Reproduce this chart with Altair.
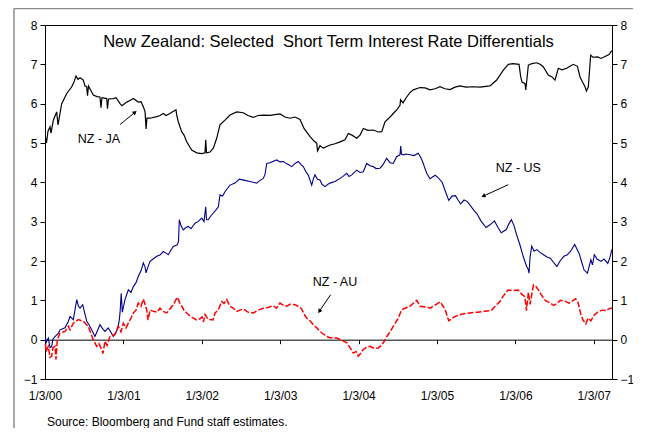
import altair as alt
import pandas as pd

W, H = 567, 354
FONT = "Liberation Sans"

# years since 1/3/00
ja_t = [0.006, 0.019, 0.038, 0.064, 0.077, 0.106, 0.149, 0.166, 0.213, 0.277, 0.341, 0.370, 0.396, 0.421, 0.447,
        0.488, 0.510, 0.532, 0.542, 0.555, 0.616, 0.663, 0.701, 0.714, 0.727, 0.787, 0.797, 0.810, 0.871, 0.906,
        0.957, 0.982, 1.042, 1.084, 1.127, 1.190, 1.225, 1.254, 1.276, 1.289, 1.301, 1.340, 1.425, 1.467, 1.509,
        1.543, 1.594, 1.632, 1.671, 1.683, 1.700, 1.743, 1.773, 1.807, 1.871, 1.935, 2.003, 2.041, 2.050, 2.060,
        2.105, 2.147, 2.190, 2.232, 2.296, 2.360, 2.446, 2.529, 2.589, 2.657, 2.717, 2.784, 2.870, 2.997, 3.061,
        3.125, 3.189, 3.253, 3.304, 3.381, 3.432, 3.466, 3.476, 3.507, 3.549, 3.635, 3.699, 3.763, 3.826, 3.869,
        3.916, 3.976, 4.018, 4.060, 4.120, 4.188, 4.248, 4.295, 4.337, 4.401, 4.442, 4.489, 4.528, 4.535, 4.566,
        4.613, 4.655, 4.698, 4.783, 4.847, 4.911, 4.975, 5.038, 5.102, 5.166, 5.230, 5.294, 5.370, 5.463, 5.548,
        5.676, 5.761, 5.846, 5.910, 5.969, 6.046, 6.068, 6.084, 6.123, 6.132, 6.143, 6.165, 6.212, 6.272, 6.314,
        6.355, 6.419, 6.466, 6.505, 6.547, 6.594, 6.654, 6.696, 6.739, 6.791, 6.824, 6.856, 6.888, 6.906, 6.930,
        6.960, 6.990, 7.049, 7.092, 7.143, 7.194, 7.229]
ja_v = [5.15, 5.00, 5.30, 5.41, 5.25, 5.58, 5.79, 5.46, 6.00, 6.26, 6.43, 6.55, 6.70, 6.62, 6.66,
        6.60, 6.45, 6.43, 6.20, 6.45, 6.22, 6.18, 6.17, 5.90, 6.15, 6.13, 5.87, 6.12, 6.13, 6.15,
        6.00, 5.95, 6.04, 6.08, 6.13, 6.04, 6.05, 5.92, 5.80, 5.36, 5.63, 5.63, 5.67, 5.70, 5.75,
        5.70, 5.75, 5.80, 5.84, 5.68, 5.54, 5.29, 5.20, 5.03, 4.82, 4.75, 4.73, 4.75, 5.08, 4.75,
        4.77, 4.87, 5.12, 5.46, 5.58, 5.71, 5.79, 5.77, 5.70, 5.65, 5.70, 5.71, 5.70, 5.74, 5.66,
        5.63, 5.66, 5.60, 5.37, 5.16, 5.05, 4.99, 4.80, 4.93, 4.87, 4.95, 4.98, 5.03, 5.08, 5.24,
        5.20, 5.12, 5.20, 5.37, 5.32, 5.33, 5.28, 5.29, 5.54, 5.66, 5.75, 5.85, 5.96, 6.10, 6.02,
        6.17, 6.28, 6.35, 6.41, 6.40, 6.35, 6.38, 6.43, 6.38, 6.36, 6.42, 6.45, 6.42, 6.43, 6.42,
        6.45, 6.60, 6.85, 7.00, 7.02, 7.00, 6.68, 6.55, 6.51, 6.35, 6.55, 6.98, 7.02, 7.04, 7.00,
        6.94, 6.73, 6.68, 6.60, 6.90, 6.86, 6.90, 6.95, 7.00, 6.95, 6.68, 6.55, 6.43, 6.32, 6.43,
        7.23, 7.18, 7.19, 7.15, 7.20, 7.25, 7.35]

us_t = [0.006, 0.013, 0.042, 0.064, 0.085, 0.102, 0.128, 0.166, 0.192, 0.255, 0.294, 0.319, 0.361, 0.405, 0.427,
        0.447, 0.481, 0.504, 0.532, 0.561, 0.595, 0.637, 0.663, 0.701, 0.734, 0.765, 0.807, 0.842, 0.871, 0.921,
        0.944, 0.957, 0.972, 0.986, 1.020, 1.063, 1.097, 1.127, 1.161, 1.190, 1.225, 1.254, 1.276, 1.289, 1.301,
        1.340, 1.378, 1.425, 1.467, 1.509, 1.543, 1.572, 1.607, 1.636, 1.687, 1.703, 1.713, 1.734, 1.764, 1.798,
        1.828, 1.862, 1.913, 1.952, 1.999, 2.028, 2.050, 2.060, 2.083, 2.117, 2.147, 2.181, 2.211, 2.232, 2.264,
        2.296, 2.328, 2.360, 2.424, 2.478, 2.551, 2.614, 2.700, 2.742, 2.784, 2.806, 2.828, 2.870, 2.955, 2.997,
        3.040, 3.087, 3.147, 3.189, 3.231, 3.266, 3.295, 3.323, 3.357, 3.381, 3.402, 3.425, 3.443, 3.476, 3.507,
        3.533, 3.571, 3.609, 3.635, 3.699, 3.763, 3.801, 3.848, 3.878, 3.912, 3.976, 4.018, 4.060, 4.103, 4.146,
        4.188, 4.222, 4.273, 4.312, 4.358, 4.401, 4.442, 4.485, 4.528, 4.537, 4.547, 4.570, 4.604, 4.655, 4.706,
        4.761, 4.796, 4.825, 4.847, 4.872, 4.911, 4.977, 5.013, 5.064, 5.102, 5.150, 5.192, 5.236, 5.268, 5.301,
        5.345, 5.388, 5.473, 5.510, 5.560, 5.625, 5.676, 5.732, 5.778, 5.819, 5.884, 5.918, 5.949, 5.982, 6.013,
        6.059, 6.099, 6.143, 6.161, 6.174, 6.187, 6.208, 6.238, 6.272, 6.314, 6.358, 6.403, 6.445, 6.492, 6.530,
        6.569, 6.618, 6.658, 6.704, 6.756, 6.786, 6.811, 6.849, 6.876, 6.919, 6.939, 6.963, 6.983, 7.007, 7.041,
        7.092, 7.130, 7.178, 7.207, 7.232]
us_v = [0.05, -0.08, 0.04, -0.20, -0.17, 0.02, 0.08, 0.15, 0.25, 0.30, 0.45, 0.59, 0.51, 1.02, 0.85,
        0.80, 0.89, 0.70, 0.47, 0.38, 0.25, 0.08, 0.20, 0.38, 0.28, 0.21, 0.30, 0.18, 0.08, 0.25,
        0.45, 0.68, 1.18, 0.70, 1.02, 1.27, 1.20, 1.35, 1.45, 1.61, 1.75, 1.95, 1.85, 1.70, 1.78,
        1.99, 2.05, 2.12, 2.15, 2.24, 2.20, 2.16, 2.28, 2.37, 2.41, 2.50, 3.05, 2.90, 2.79, 2.85,
        2.88, 2.82, 2.96, 3.00, 3.09, 3.00, 3.38, 3.05, 3.05, 3.15, 3.22, 3.30, 3.38, 3.68, 3.65,
        3.76, 3.85, 3.93, 3.98, 4.08, 4.05, 4.02, 3.98, 4.05, 4.10, 4.20, 4.48, 4.50, 4.57, 4.52,
        4.53, 4.47, 4.40, 4.48, 4.53, 4.45, 4.40, 4.28, 4.19, 4.05, 3.93, 4.10, 4.19, 4.08, 4.06,
        3.95, 3.89, 3.95, 3.98, 4.02, 4.10, 4.15, 4.23, 4.15, 4.19, 4.31, 4.25, 4.27, 4.48, 4.42,
        4.40, 4.35, 4.36, 4.45, 4.61, 4.50, 4.48, 4.65, 4.70, 4.92, 4.72, 4.70, 4.72, 4.70, 4.68,
        4.74, 4.62, 4.48, 4.35, 4.22, 4.09, 4.18, 4.12, 4.01, 3.80, 3.54, 3.65, 3.66, 3.55, 3.45,
        3.55, 3.51, 3.28, 3.20, 3.02, 2.85, 2.92, 3.02, 2.85, 2.72, 2.80, 2.95, 3.05, 2.90, 2.68,
        2.40, 2.12, 1.86, 1.80, 1.69, 2.10, 2.38, 2.25, 2.29, 2.22, 2.16, 2.10, 2.07, 1.95, 1.86,
        2.00, 2.12, 2.15, 2.25, 2.42, 2.30, 2.20, 1.95, 1.77, 1.69, 1.85, 2.03, 1.90, 2.16, 2.05,
        1.99, 2.05, 1.94, 2.10, 2.30]

au_t = [0.006, 0.013, 0.042, 0.064, 0.085, 0.102, 0.128, 0.140, 0.157, 0.192, 0.255, 0.298, 0.319, 0.361, 0.424,
        0.488, 0.522, 0.552, 0.586, 0.616, 0.659, 0.688, 0.723, 0.740, 0.765, 0.791, 0.829, 0.893, 0.935, 0.969,
        0.999, 1.033, 1.063, 1.097, 1.127, 1.161, 1.190, 1.225, 1.254, 1.276, 1.297, 1.314, 1.340, 1.382, 1.429,
        1.467, 1.505, 1.553, 1.594, 1.636, 1.687, 1.716, 1.743, 1.773, 1.807, 1.849, 1.892, 1.933, 1.977, 2.003,
        2.021, 2.041, 2.079, 2.105, 2.143, 2.169, 2.207, 2.254, 2.283, 2.318, 2.360, 2.401, 2.446, 2.487, 2.529,
        2.589, 2.657, 2.717, 2.784, 2.844, 2.912, 2.952, 2.997, 3.036, 3.083, 3.125, 3.189, 3.227, 3.274, 3.304,
        3.337, 3.381, 3.422, 3.466, 3.507, 3.546, 3.593, 3.635, 3.720, 3.775, 3.848, 3.890, 3.932, 3.967, 3.996,
        4.024, 4.060, 4.095, 4.146, 4.197, 4.252, 4.286, 4.316, 4.359, 4.401, 4.442, 4.477, 4.506, 4.549, 4.592,
        4.655, 4.694, 4.741, 4.783, 4.869, 4.911, 4.975, 5.042, 5.077, 5.107, 5.150, 5.179, 5.214, 5.268, 5.345,
        5.420, 5.517, 5.599, 5.691, 5.740, 5.798, 5.842, 5.906, 5.969, 6.034, 6.084, 6.121, 6.141, 6.165, 6.187,
        6.230, 6.263, 6.294, 6.327, 6.380, 6.428, 6.488, 6.530, 6.573, 6.632, 6.683, 6.722, 6.769, 6.798, 6.833,
        6.862, 6.898, 6.926, 6.963, 7.003, 7.050, 7.105, 7.157, 7.207, 7.232]
au_v = [-0.10, -0.30, -0.17, -0.45, -0.42, -0.20, -0.17, -0.50, 0.00, 0.17, 0.21, 0.34, 0.25, 0.42, 0.51,
        0.47, 0.40, 0.34, 0.15, 0.00, -0.17, -0.10, -0.25, -0.35, -0.04, -0.15, 0.08, 0.13, 0.34, 0.20,
        0.42, 0.30, 0.42, 0.55, 0.68, 0.75, 0.93, 0.85, 1.03, 0.90, 0.76, 0.50, 0.75, 0.72, 0.70,
        0.80, 0.72, 0.68, 0.78, 0.89, 1.08, 0.95, 0.85, 0.75, 0.68, 0.60, 0.55, 0.50, 0.53, 0.58,
        0.45, 0.64, 0.52, 0.51, 0.50, 0.68, 0.75, 0.97, 0.92, 1.02, 0.85, 0.80, 0.72, 0.75, 0.78,
        0.70, 0.68, 0.75, 0.80, 0.82, 0.86, 0.80, 0.93, 0.88, 0.85, 0.90, 0.89, 0.85, 0.78, 0.65,
        0.55, 0.48, 0.38, 0.30, 0.21, 0.15, 0.08, 0.05, 0.04, 0.00, -0.08, -0.20, -0.34, -0.30, -0.42,
        -0.35, -0.25, -0.20, -0.17, -0.22, -0.21, -0.15, -0.08, 0.08, 0.20, 0.34, 0.45, 0.55, 0.76, 0.80,
        0.85, 0.92, 1.00, 0.85, 0.83, 0.80, 0.88, 0.96, 0.85, 0.74, 0.48, 0.52, 0.57, 0.62, 0.66,
        0.68, 0.70, 0.72, 0.74, 0.85, 0.96, 1.10, 1.26, 1.25, 1.26, 1.15, 1.09, 0.74, 1.20, 0.90,
        1.39, 1.35, 1.26, 1.15, 1.00, 0.95, 0.87, 0.92, 1.00, 0.98, 0.93, 0.98, 1.04, 0.95, 0.66,
        0.50, 0.40, 0.55, 0.48, 0.62, 0.70, 0.75, 0.74, 0.80, 0.80]

x_ticks = [0, 1, 2, 3, 4, 5, 6, 7]
y_ticks = [-1, 0, 1, 2, 3, 4, 5, 6, 7, 8]

title_text = "New Zealand: Selected\u00a0 Short Term Interest Rate Differentials"
source_text = "Source: Bloomberg and Fund staff estimates."

label_txt = ["NZ - JA", "NZ - US", "NZ - AU"]
label_t = [0.689, 6.037, 3.699]
label_v = [5.09, 4.37, 1.46]
arrow_t0 = [0.957, 5.909, 3.644]
arrow_v0 = [5.47, 3.94, 1.145]
arrow_t1 = [1.148, 5.591, 3.499]
arrow_v1 = [5.78, 3.65, 0.72]
arrow_ang = [51, 244, 215]

df_ja = pd.DataFrame({"t": ja_t, "v": ja_v})
df_us = pd.DataFrame({"t": us_t, "v": us_v})
df_au = pd.DataFrame({"t": au_t, "v": au_v})
df_lab = pd.DataFrame({"t": label_t, "v": label_v, "txt": label_txt})
df_arr = pd.DataFrame({"t0": arrow_t0, "v0": arrow_v0, "t1": arrow_t1, "v1": arrow_v1, "a": arrow_ang})
one = pd.DataFrame({"k": [0]})

xscale = alt.Scale(domain=[0, 7.232], nice=False, zero=False)
x_axis = alt.Axis(values=x_ticks, labelExpr="'1/3/0' + datum.value", offset=-H / 9, tickSize=4,
                  tickColor="black", domainColor="black", domainWidth=1, labelPadding=47,
                  labelFlush=False, labelFont=FONT, labelFontSize=12, labelColor="black",
                  grid=False, title=None)


def yaxis(orient):
    return alt.Axis(values=y_ticks, orient=orient, tickSize=5, tickColor="black", domain=False,
                    grid=False, labelPadding=3, labelFont=FONT, labelFontSize=12,
                    labelColor="black", title=None, labelFlush=False)


def X(field):
    return alt.X(field, type="quantitative", scale=xscale, axis=x_axis)


def Y(field, axis=None):
    return alt.Y(field, type="quantitative", scale=alt.Scale(domain=[-1, 8], nice=False, zero=False), axis=axis)


border_v = alt.Chart(one).mark_rule(color="#8c8c8c", strokeWidth=1.5).encode(
    x=alt.value(-31), y=alt.value(-16.5), y2=alt.value(H + 49))
border_h = alt.Chart(one).mark_rule(color="#8c8c8c", strokeWidth=1.5).encode(
    x=alt.value(-31), x2=alt.value(W + 21), y=alt.value(-16.5))

ja = alt.Chart(df_ja).mark_line(color="black", strokeWidth=1.2).encode(
    x=X("t"), y=Y("v", yaxis("left")))
us = alt.Chart(df_us).mark_line(color="#00008b", strokeWidth=1.1).encode(
    x=X("t"), y=Y("v"))
au = alt.Chart(df_au).mark_line(color="#ff0000", strokeWidth=1.5, strokeDash=[6, 2]).encode(
    x=X("t"), y=Y("v", yaxis("right")))

arrows = alt.Chart(df_arr).mark_rule(color="black", strokeWidth=1).encode(
    x=X("t0"), x2="t1", y=Y("v0"), y2="v1")
heads = alt.Chart(df_arr).mark_point(shape="triangle-up", filled=True, size=22, color="black", opacity=1).encode(
    x=X("t1"), y=Y("v1"), angle=alt.Angle("a:Q", scale=None))
labels = alt.Chart(df_lab).mark_text(font=FONT, fontSize=12.5, color="black").encode(
    x=X("t"), y=Y("v"), text="txt:N")

title = alt.Chart(one).mark_text(text=title_text, font=FONT, fontSize=16.5, color="black",
                                 baseline="middle").encode(x=alt.value(W / 2), y=alt.value(17))
source = alt.Chart(one).mark_text(text=source_text, font=FONT, fontSize=12, color="black",
                                  align="left", baseline="middle").encode(x=alt.value(2), y=alt.value(H + 43))

chart = alt.layer(border_v, border_h, ja, us, au, arrows, heads, labels, title, source).resolve_scale(
    y="independent"
).properties(
    width=W, height=H, padding={"left": 37, "top": 17, "right": 21, "bottom": 49},
    autosize=alt.AutoSizeParams(type="none"), background="white"
).configure_view(stroke="black", strokeWidth=1)

chart.save("out.html", embed_options={"renderer": "svg", "actions": False})
